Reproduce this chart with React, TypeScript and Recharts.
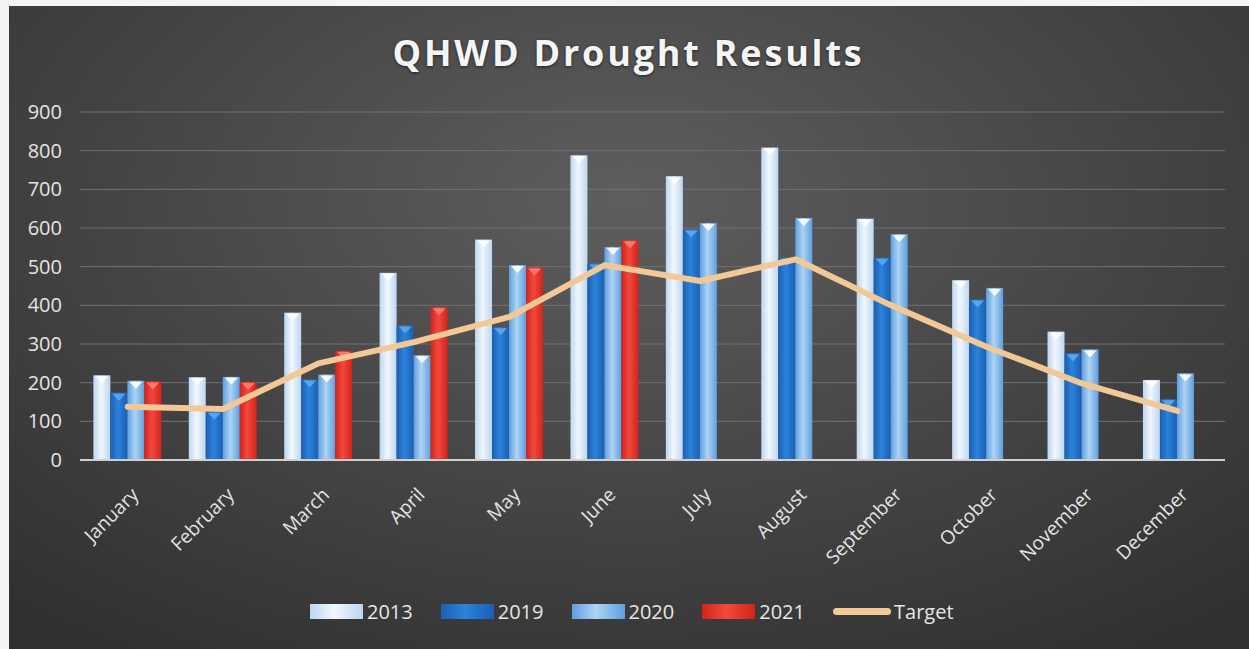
import React from "react";
import {
  ComposedChart,
  Bar,
  Line,
  XAxis,
  YAxis,
  CartesianGrid,
} from "recharts";

const months = [
  "January", "February", "March", "April", "May", "June",
  "July", "August", "September", "October", "November", "December",
];
const y2013 = [219, 214, 381, 484, 570, 788, 734, 808, 624, 465, 332, 207];
const y2019 = [174, 125, 208, 348, 343, 508, 596, 523, 523, 415, 276, 157];
const y2020 = [205, 215, 221, 271, 504, 551, 613, 626, 584, 445, 286, 224];
const y2021 = [203, 202, 282, 395, 498, 568, null, null, null, null, null, null];
const target = [138, 132, 250, 305, 370, 504, 463, 519, 400, 293, 198, 127];
const yTicks = [0, 100, 200, 300, 400, 500, 600, 700, 800, 900];

const data = months.map((m, i) => ({
  month: m,
  y2013: y2013[i],
  y2019: y2019[i],
  y2020: y2020[i],
  y2021: y2021[i],
  target: target[i],
}));

const FONT = "'Open Sans', 'DejaVu Sans', sans-serif";

const series = [
  { key: "y2013", name: "2013", edge: "#bcd6f1", mid: "#f1f7fd", tip: "#ffffff" },
  { key: "y2019", name: "2019", edge: "#1a60b4", mid: "#2c82da", tip: "#5aaaf0" },
  { key: "y2020", name: "2020", edge: "#5e9fe0", mid: "#aed3f3", tip: "#ffffff" },
  { key: "y2021", name: "2021", edge: "#d2231c", mid: "#f2493d", tip: "#ff7d72" },
];

const makeShape = (id: string, tip: string) => (props: any) => {
  const { x, y, width, height } = props;
  if (!height || height <= 0) return <g />;
  const cx = x + width / 2;
  return (
    <g>
      <rect x={x} y={y} width={width} height={height} fill={`url(#grad-${id})`} />
      <polygon
        points={`${x + 2},${y + 1} ${x + width - 2},${y + 1} ${cx},${y + 8}`}
        fill={tip}
        opacity={0.9}
      />
    </g>
  );
};

const MonthTick = (props: any) => {
  const { x, y, payload } = props;
  return (
    <g transform={`translate(${x + 12},${y + 28})`}>
      <text
        x={0}
        y={0}
        textAnchor="end"
        transform="rotate(-45)"
        fill="#e4e4e4"
        fontSize={19}
        fontFamily={FONT}
      >
        {payload.value}
      </text>
    </g>
  );
};

export default function App() {
  return (
    <div
      style={{
        position: "fixed",
        left: 0,
        top: 0,
        width: 1249,
        height: 649,
        background: "#f4f4f4",
        overflow: "hidden",
      }}
    >
      <div
        style={{
          position: "absolute",
          left: 9,
          top: 6,
          right: 0,
          bottom: 0,
          background:
            "radial-gradient(ellipse 75% 85% at 50% 30%, #5e5e5e 0%, #494949 45%, #303030 100%)",
        }}
      />
      <div
        style={{
          position: "absolute",
          left: 8,
          top: 33,
          width: 1241,
          textAlign: "center",
          fontFamily: FONT,
          fontWeight: 700,
          fontSize: 36,
          letterSpacing: 2.8,
          lineHeight: "40px",
          color: "#f5f5f5",
          textShadow: "0 1px 3px rgba(0,0,0,0.6)",
        }}
      >
        QHWD Drought Results
      </div>
      <div style={{ position: "absolute", left: 0, top: 0 }}>
        <ComposedChart
          width={1249}
          height={649}
          data={data}
          margin={{ top: 112, right: 24, left: 0, bottom: 89 }}
          barCategoryGap="14%"
          barGap={0}
        >
          <defs>
            {series.map((s) => (
              <linearGradient key={s.key} id={`grad-${s.key}`} x1="0" y1="0" x2="1" y2="0">
                <stop offset="0%" stopColor={s.edge} />
                <stop offset="45%" stopColor={s.mid} />
                <stop offset="100%" stopColor={s.edge} />
              </linearGradient>
            ))}
          </defs>
          <CartesianGrid vertical={false} stroke="#707070" strokeWidth={1} />
          <XAxis
            dataKey="month"
            interval={0}
            height={100}
            axisLine={{ stroke: "#cfcfcf", strokeWidth: 2 }}
            tickLine={false}
            tick={<MonthTick />}
          />
          <YAxis
            domain={[0, 900]}
            ticks={yTicks}
            width={80}
            axisLine={false}
            tickLine={false}
            tickMargin={12}
            tick={{ fill: "#e4e4e4", fontSize: 20, fontFamily: FONT }}
          />
          {series.map((s) => (
            <Bar
              key={s.key}
              dataKey={s.key}
              name={s.name}
              shape={makeShape(s.key, s.tip)}
              isAnimationActive={false}
            />
          ))}
          <Line
            type="linear"
            dataKey="target"
            name="Target"
            stroke="#f3c897"
            strokeWidth={6}
            strokeLinecap="round"
            strokeLinejoin="round"
            dot={false}
            activeDot={false}
            isAnimationActive={false}
          />
        </ComposedChart>
      </div>
      <div
        style={{
          position: "absolute",
          left: 310,
          top: 598,
          display: "flex",
          alignItems: "center",
          fontFamily: FONT,
          fontSize: 20,
          color: "#e6e6e6",
        }}
      >
        {series.map((s) => (
          <div key={s.key} style={{ display: "flex", alignItems: "center", marginRight: 28 }}>
            <div
              style={{
                width: 53,
                height: 15,
                marginRight: 4,
                background: `linear-gradient(to right, ${s.edge}, ${s.mid} 45%, ${s.edge})`,
              }}
            />
            <span>{s.name}</span>
          </div>
        ))}
        <div style={{ display: "flex", alignItems: "center" }}>
          <div
            style={{
              width: 58,
              height: 7,
              borderRadius: 4,
              marginRight: 3,
              background: "#f3c897",
            }}
          />
          <span>Target</span>
        </div>
      </div>
    </div>
  );
}
